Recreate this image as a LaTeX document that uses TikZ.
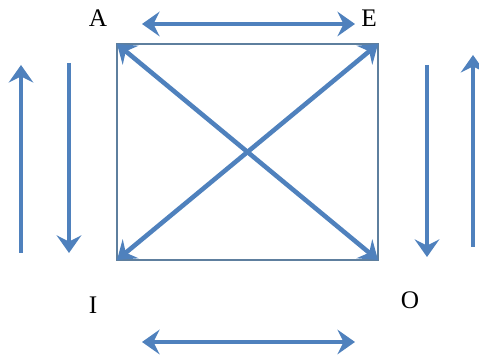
\documentclass[tikz,border=0pt]{standalone}
\usepackage{fontspec}
\setmainfont{Liberation Serif}
\usepackage{xcolor}
\usetikzlibrary{arrows.meta}
\definecolor{arrowblue}{HTML}{4F81BD}
\definecolor{boxblue}{HTML}{5E7F9E}

\begin{document}
\begin{tikzpicture}[
  corner/.style={font=\Large, inner sep=0pt},
  twoway/.style={draw=arrowblue, line width=2.6pt, {Stealth[length=10pt,width=14pt,inset=3.5pt]}-{Stealth[length=10pt,width=14pt,inset=3.5pt]}},
  oneway/.style={draw=arrowblue, line width=2.6pt, -{Stealth[length=10pt,width=14pt,inset=3.5pt]}},
  square/.style={draw=boxblue, line width=0.9pt}
]
\useasboundingbox (0,0) rectangle (9.58,7.2);

\node[corner] (A) at (1.96,6.84) {A};
\node[corner] (E) at (7.38,6.84) {E};
\node[corner] (I) at (1.86,1.1) {I};
\node[corner] (O) at (8.2,1.2) {O};

% corners of the square
\coordinate (a) at (2.34,6.32);
\coordinate (e) at (7.56,6.32);
\coordinate (i) at (2.34,2.0);
\coordinate (o) at (7.56,2.0);
\draw[square] (a) -- (e) -- (o) -- (i) -- cycle;
\draw[twoway] (a) -- (o);
\draw[twoway] (e) -- (i);

% contraries and subcontraries
\coordinate (top1) at (2.84,6.72);
\coordinate (top2) at (7.1,6.72);
\coordinate (bot1) at (2.84,0.36);
\coordinate (bot2) at (7.1,0.36);
\draw[twoway] (top1) -- (top2);
\draw[twoway] (bot1) -- (bot2);

% subalternation
\coordinate (l1) at (0.42,2.14);
\coordinate (l2) at (0.42,5.9);
\coordinate (l3) at (1.38,5.94);
\coordinate (l4) at (1.38,2.14);
\draw[oneway] (l1) -- (l2);
\draw[oneway] (l3) -- (l4);
\coordinate (r1) at (8.54,5.9);
\coordinate (r2) at (8.54,2.06);
\coordinate (r3) at (9.46,2.26);
\coordinate (r4) at (9.46,6.1);
\draw[oneway] (r1) -- (r2);
\draw[oneway] (r3) -- (r4);
\end{tikzpicture}
\end{document}
